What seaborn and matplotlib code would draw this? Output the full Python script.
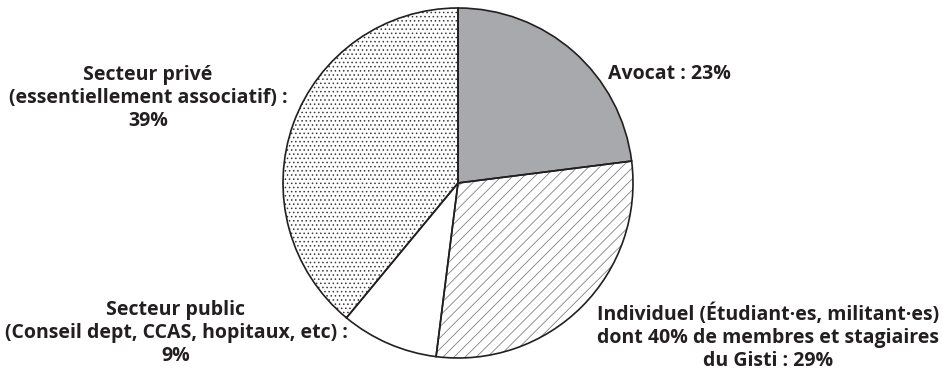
import matplotlib
matplotlib.use("Agg")
import matplotlib.pyplot as plt
import seaborn as sns

# Répartition (en %)
categories = [
    "Avocat : 23%",
    "Individuel (Étudiant·es, militant·es)\ndont 40% de membres et stagiaires\ndu Gisti : 29%",
    "Secteur public\n(Conseil dept, CCAS, hopitaux, etc) :\n9%",
    "Secteur privé\n(essentiellement associatif) :\n39%",
]
values = [23, 29, 9, 39]
colors = ["#a7a9ac", "white", "white", "white"]
hatches = ["", "///", "", "...."]
hatch_colors = ["#a7a9ac", "#808285", "white", "#3a3a3a"]

sns.set_theme(style="white")
plt.rcParams["font.family"] = ["Open Sans", "DejaVu Sans"]
plt.rcParams["hatch.linewidth"] = 0.6

fig = plt.figure(figsize=(9.42, 3.71), dpi=100)
W, H = 942, 371
cx, cy, r = 458, 183, 175
ax = fig.add_axes([(cx - r) / W, (H - cy - r) / H, 2 * r / W, 2 * r / H])

# Remplissage + motifs
wedges, _ = ax.pie(values, colors=colors, startangle=90, counterclock=False,
                   radius=1, wedgeprops=dict(linewidth=0))
for w, h, hc in zip(wedges, hatches, hatch_colors):
    w.set_hatch(h)
    w.set_edgecolor(hc)

# Contours noirs
ax.pie(values, colors=["none"] * len(values), startangle=90, counterclock=False,
       radius=1, wedgeprops=dict(linewidth=1.2, edgecolor="#231f20"))
ax.set_xlim(-1, 1)
ax.set_ylim(-1, 1)
ax.set_aspect("equal")
ax.axis("off")

txt = dict(fontsize=14, fontweight="bold", color="#231f20", linespacing=1.2)
fig.text(608 / W, 1 - 74 / H, categories[0], ha="left", va="center", **txt)
fig.text(768 / W, 1 - 337 / H, categories[1], ha="center", va="center", **txt)
fig.text(176 / W, 1 - 333 / H, categories[2], ha="center", va="center", **txt)
fig.text(148 / W, 1 - 98 / H, categories[3], ha="center", va="center", **txt)

plt.savefig("out.png", dpi=100)
